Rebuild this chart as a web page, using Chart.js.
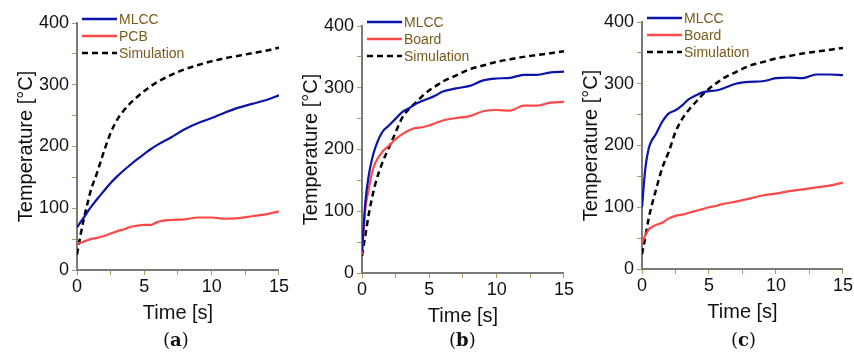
<!DOCTYPE html>
<html>
<head>
<meta charset="utf-8">
<script src="https://cdn.jsdelivr.net/npm/chart.js@4.4.1/dist/chart.umd.min.js"></script>
<style>
  body { margin: 0; background: #fff; }
  #wrap { position: relative; width: 854px; height: 356px; overflow: hidden; }
  .pane { position: absolute; top: 0; }
  .cap { position: absolute; top: 329px; font-family: "DejaVu Serif", "Liberation Serif", serif; font-size: 18px; color: #111; }
</style>
</head>
<body>
<div id="wrap">
  <div class="pane" style="left:0px;width:290px;height:330px"><canvas id="chartA"></canvas></div>
  <div class="pane" style="left:285px;width:290px;height:333px"><canvas id="chartB"></canvas></div>
  <div class="pane" style="left:565px;width:289px;height:329px"><canvas id="chartC"></canvas></div>
  <div class="cap" style="left:163px">(<b>a</b>)</div>
  <div class="cap" style="left:449px">(<b>b</b>)</div>
  <div class="cap" style="left:731px">(<b>c</b>)</div>
</div>
<script>
// time grid [s], shared by all series
const times = [0, 0.25, 0.5, 0.75, 1, 1.5, 2, 2.5, 3, 3.5, 4, 4.5, 5, 5.5, 6, 7, 8, 9, 10, 11, 12, 13, 14, 15];

// (a)
const mlccA = [69, 77, 85, 93, 101, 115, 128, 141, 152, 162, 171, 180, 188, 196, 203, 215, 228, 238, 246, 255, 263, 269, 275, 283];
const pcbA  = [43, 44, 46, 48, 50, 52, 55, 59, 63, 66, 70, 72, 73, 73, 78, 81, 82, 85, 85, 83, 84, 87, 90, 95];
const simA  = [25, 55, 82, 105, 127, 158, 192, 222, 244, 259, 271, 281, 290, 298, 305, 316, 325, 332, 338, 343, 347, 351, 355, 360];

// (b)
const mlccB  = [35, 115, 158, 185, 204, 228, 239, 250, 261, 267, 274, 279, 283, 288, 294, 299, 303, 312, 315, 316, 321, 321, 325, 326];
const boardB = [30, 104, 136, 163, 179, 196, 206, 217, 225, 231, 235, 236, 239, 243, 247, 251, 254, 262, 264, 263, 271, 271, 276, 277];
const simB   = [28, 61, 95, 122, 145, 178, 203, 228, 252, 266, 276, 287, 296, 303, 310, 320, 330, 336, 342, 346, 350, 353, 356, 359];

// (c)
const mlccC  = [100, 163, 195, 209, 217, 238, 252, 257, 265, 275, 281, 286, 288, 289, 292, 300, 303, 304, 309, 310, 309, 315, 315, 314];
const boardC = [41, 55, 64, 68, 71, 75, 82, 86, 88, 91, 94, 97, 100, 102, 105, 109, 114, 119, 122, 126, 129, 132, 135, 140];
const simC   = [24, 52, 82, 105, 125, 163, 190, 222, 243, 258, 270, 282, 292, 300, 308, 319, 329, 335, 341, 345, 349, 352, 355, 358];

const BLUE = '#0b14a8';
const RED = '#ff4848';
const TEXT_BROWN = '#7a5a1c';
const FONT = '"Liberation Sans", Arial, sans-serif';

function pts(ys) {
  return times.map((t, i) => ({ x: t, y: ys[i] }));
}

// legend drawn in the top-left corner of the plot
const cornerLegend = {
  id: 'cornerLegend',
  afterDraw(chart) {
    const ctx = chart.ctx;
    const area = chart.chartArea;
    const x0 = area.left + 5;
    const y0 = area.top - 4;
    ctx.save();
    ctx.font = '14px ' + FONT;
    ctx.textBaseline = 'middle';
    chart.data.datasets.forEach((ds, i) => {
      const y = y0 + i * 17;
      ctx.strokeStyle = ds.borderColor;
      ctx.lineWidth = 2.5;
      ctx.setLineDash(ds.borderDash || []);
      ctx.beginPath();
      ctx.moveTo(x0, y);
      ctx.lineTo(x0 + 35, y);
      ctx.stroke();
      ctx.setLineDash([]);
      ctx.fillStyle = TEXT_BROWN;
      ctx.fillText(ds.label, x0 + 37, y + 1);
    });
    ctx.restore();
  }
};

function makeChart(id, second, mlcc, other, sim, top, rightPad) {
  return new Chart(document.getElementById(id), {
    type: 'line',
    data: {
      datasets: [
        { label: 'MLCC', data: pts(mlcc), borderColor: BLUE, borderWidth: 2.2 },
        { label: second, data: pts(other), borderColor: RED, borderWidth: 2.2 },
        { label: 'Simulation', data: pts(sim), borderColor: '#000', borderWidth: 2.5, borderDash: [6, 4] }
      ]
    },
    options: {
      responsive: true,
      maintainAspectRatio: false,
      animation: false,
      layout: { padding: { left: 0, right: rightPad, top: top, bottom: 0 }, autoPadding: false },
      elements: { point: { radius: 0 }, line: { cubicInterpolationMode: 'monotone', fill: false } },
      plugins: { legend: { display: false }, tooltip: { enabled: false } },
      scales: {
        x: {
          type: 'linear',
          min: 0, max: 15,
          afterFit: s => { s.height = 60; },
          border: { display: true, color: '#7a7a7a', width: 2 },
          grid: { drawOnChartArea: false, drawTicks: true, tickLength: 5, color: '#b8965a' },
          ticks: {
            stepSize: 2.5, padding: 1, color: '#111', autoSkip: false,
            font: { family: FONT, size: 18 },
            maxRotation: 0,
            callback: v => (v % 5 === 0 ? String(v) : '')
          },
          title: { display: true, text: 'Time [s]', color: '#111', font: { family: FONT, size: 20 }, padding: { bottom: 5 } }
        },
        y: {
          min: 0, max: 400,
          afterFit: s => { s.width = 77; },
          border: { display: true, color: '#7a7a7a', width: 2 },
          grid: { drawOnChartArea: false, drawTicks: true, tickLength: 5, color: '#b8965a' },
          ticks: {
            stepSize: 50, padding: 3, color: '#111', autoSkip: false,
            font: { family: FONT, size: 18 },
            callback: v => (v % 100 === 0 ? String(v) : '')
          },
          title: { display: true, text: 'Temperature [°C]', color: '#111', font: { family: FONT, size: 20 }, padding: { top: 14 } }
        }
      }
    },
    plugins: [cornerLegend]
  });
}

makeChart('chartA', 'PCB', mlccA, pcbA, simA, 23, 10);
makeChart('chartB', 'Board', mlccB, boardB, simB, 26, 11);
makeChart('chartC', 'Board', mlccC, boardC, simC, 22, 9);
</script>
</body>
</html>
